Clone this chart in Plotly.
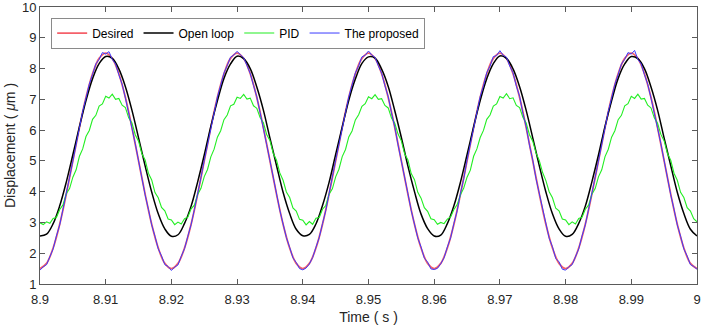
import numpy as np
import plotly.graph_objects as go

# Sampling grids (s): 1 ms for the smooth traces, 0.5 ms for the measured noisy ones
t_coarse = np.round(np.linspace(8.9, 9.0, 101), 4)
t_fine = np.round(np.linspace(8.9, 9.0, 201), 5)

# Desired reference trajectory (um), 1 ms samples
desired = [
    1.50, 1.67, 2.17, 2.94, 3.92, 5.00, 6.08, 7.06, 7.83, 8.33, 8.50, 8.33, 7.83, 7.06, 6.08, 5.00, 3.92, 2.94, 2.17, 1.67,
    1.50, 1.67, 2.17, 2.94, 3.92, 5.00, 6.08, 7.06, 7.83, 8.33, 8.50, 8.33, 7.83, 7.06, 6.08, 5.00, 3.92, 2.94, 2.17, 1.67,
    1.50, 1.67, 2.17, 2.94, 3.92, 5.00, 6.08, 7.06, 7.83, 8.33, 8.50, 8.33, 7.83, 7.06, 6.08, 5.00, 3.92, 2.94, 2.17, 1.67,
    1.50, 1.67, 2.17, 2.94, 3.92, 5.00, 6.08, 7.06, 7.83, 8.33, 8.50, 8.33, 7.83, 7.06, 6.08, 5.00, 3.92, 2.94, 2.17, 1.67,
    1.50, 1.67, 2.17, 2.94, 3.92, 5.00, 6.08, 7.06, 7.83, 8.33, 8.50, 8.33, 7.83, 7.06, 6.08, 5.00, 3.92, 2.94, 2.17, 1.67,
    1.50,
]

# Open-loop response (um), 1 ms samples
open_loop = [
    2.56, 2.62, 2.96, 3.54, 4.31, 5.20, 6.11, 6.96, 7.67, 8.16, 8.39, 8.33, 7.99, 7.41, 6.64, 5.75, 4.84, 3.99, 3.28, 2.79,
    2.55, 2.60, 2.97, 3.53, 4.32, 5.19, 6.12, 6.95, 7.68, 8.15, 8.40, 8.32, 8.00, 7.40, 6.65, 5.74, 4.85, 3.98, 3.29, 2.78,
    2.57, 2.61, 2.95, 3.55, 4.30, 5.21, 6.10, 6.97, 7.66, 8.17, 8.38, 8.34, 7.98, 7.42, 6.63, 5.76, 4.83, 4.00, 3.27, 2.80,
    2.56, 2.59, 2.96, 3.54, 4.31, 5.20, 6.11, 6.96, 7.67, 8.16, 8.41, 8.33, 7.99, 7.41, 6.64, 5.75, 4.84, 3.99, 3.28, 2.79,
    2.55, 2.61, 2.97, 3.53, 4.32, 5.19, 6.12, 6.95, 7.68, 8.15, 8.39, 8.32, 8.00, 7.40, 6.65, 5.74, 4.85, 3.98, 3.29, 2.78,
    2.56,
]

# PID-controlled response (um), 0.5 ms samples
pid = [
    2.99, 2.93, 3.02, 2.97, 3.13, 3.16, 3.42, 3.57, 3.93, 4.10, 4.47, 4.71, 5.15, 5.39, 5.79, 5.99, 6.35, 6.48, 6.78, 6.85,
    7.10, 7.04, 7.17, 7.00, 7.03, 6.81, 6.73, 6.40, 6.23, 5.85, 5.64, 5.24, 5.03, 4.60, 4.38, 3.97, 3.80, 3.49, 3.38, 3.11,
    3.08, 2.93, 3.01, 2.95, 3.12, 3.17, 3.44, 3.56, 3.91, 4.11, 4.49, 4.72, 5.13, 5.38, 5.77, 5.98, 6.34, 6.49, 6.79, 6.84,
    7.07, 7.03, 7.16, 7.01, 7.04, 6.79, 6.71, 6.41, 6.24, 5.86, 5.66, 5.25, 5.02, 4.61, 4.37, 3.99, 3.81, 3.47, 3.37, 3.10,
    3.07, 2.92, 3.03, 2.94, 3.14, 3.16, 3.43, 3.55, 3.92, 4.09, 4.48, 4.73, 5.14, 5.37, 5.78, 5.97, 6.33, 6.50, 6.77, 6.86,
    7.08, 7.02, 7.15, 7.00, 7.02, 6.80, 6.72, 6.39, 6.22, 5.87, 5.65, 5.23, 5.03, 4.59, 4.39, 3.98, 3.79, 3.48, 3.36, 3.12,
    3.09, 2.94, 3.00, 2.96, 3.11, 3.18, 3.42, 3.58, 3.90, 4.12, 4.47, 4.70, 5.15, 5.39, 5.76, 5.99, 6.35, 6.49, 6.78, 6.85,
    7.09, 7.04, 7.18, 7.02, 7.05, 6.80, 6.73, 6.42, 6.23, 5.85, 5.64, 5.26, 5.01, 4.62, 4.36, 4.00, 3.80, 3.46, 3.38, 3.11,
    3.08, 2.93, 3.02, 2.95, 3.13, 3.17, 3.43, 3.56, 3.92, 4.10, 4.48, 4.71, 5.14, 5.38, 5.77, 5.98, 6.34, 6.48, 6.79, 6.86,
    7.10, 7.03, 7.17, 7.01, 7.03, 6.81, 6.72, 6.40, 6.22, 5.86, 5.65, 5.24, 5.02, 4.60, 4.37, 3.98, 3.81, 3.48, 3.37, 3.12,
    3.02,
]

# Response with the proposed controller (um), 0.5 ms samples
proposed = [
    1.45, 1.56, 1.63, 1.91, 2.14, 2.56, 2.92, 3.43, 3.90, 4.47, 4.99, 5.56, 6.07, 6.61, 7.04, 7.49, 7.81, 8.15, 8.30, 8.52,
    8.47, 8.55, 8.30, 8.15, 7.80, 7.49, 7.04, 6.60, 6.06, 5.56, 4.99, 4.46, 3.90, 3.43, 2.92, 2.55, 2.14, 1.91, 1.63, 1.57,
    1.44, 1.55, 1.62, 1.90, 2.15, 2.55, 2.93, 3.42, 3.91, 4.46, 5.01, 5.54, 6.09, 6.58, 7.07, 7.46, 7.85, 8.10, 8.37, 8.44,
    8.56, 8.45, 8.35, 8.10, 7.84, 7.45, 7.08, 6.57, 6.09, 5.53, 5.01, 4.44, 3.93, 3.40, 2.95, 2.51, 2.19, 1.85, 1.70, 1.50,
    1.46, 1.52, 1.65, 1.86, 2.19, 2.51, 2.96, 3.39, 3.94, 4.43, 5.02, 5.53, 6.10, 6.57, 7.08, 7.45, 7.86, 8.09, 8.38, 8.43,
    8.57, 8.44, 8.36, 8.09, 7.85, 7.44, 7.09, 6.56, 6.10, 5.52, 5.02, 4.43, 3.94, 3.39, 2.96, 2.50, 2.20, 1.84, 1.71, 1.49,
    1.47, 1.51, 1.66, 1.85, 2.20, 2.50, 2.97, 3.38, 3.95, 4.42, 5.03, 5.52, 6.11, 6.56, 7.09, 7.44, 7.87, 8.08, 8.39, 8.42,
    8.58, 8.43, 8.37, 8.08, 7.86, 7.43, 7.10, 6.55, 6.11, 5.51, 5.03, 4.42, 3.95, 3.38, 2.97, 2.49, 2.21, 1.83, 1.72, 1.48,
    1.45, 1.56, 1.63, 1.91, 2.14, 2.56, 2.92, 3.43, 3.90, 4.47, 4.99, 5.56, 6.07, 6.61, 7.04, 7.49, 7.81, 8.15, 8.30, 8.52,
    8.47, 8.59, 8.30, 8.15, 7.80, 7.49, 7.04, 6.60, 6.06, 5.56, 4.99, 4.46, 3.90, 3.43, 2.92, 2.55, 2.14, 1.91, 1.63, 1.57,
    1.48,
]

x_tick_vals = [8.9, 8.91, 8.92, 8.93, 8.94, 8.95, 8.96, 8.97, 8.98, 8.99, 9.0]
x_tick_text = ["8.9", "8.91", "8.92", "8.93", "8.94", "8.95", "8.96", "8.97", "8.98", "8.99", "9"]
y_tick_vals = [1, 2, 3, 4, 5, 6, 7, 8, 9, 10]

FONT = "Liberation Sans, Arial, sans-serif"

fig = go.Figure()
fig.add_trace(go.Scatter(x=t_coarse, y=desired, mode="lines", name="Desired",
                         line=dict(color="#f5606a", width=1.8, shape="spline")))
fig.add_trace(go.Scatter(x=t_coarse, y=open_loop, mode="lines", name="Open loop",
                         line=dict(color="#000000", width=1.5, shape="spline")))
fig.add_trace(go.Scatter(x=t_fine, y=pid, mode="lines", name="PID",
                         line=dict(color="#22ee22", width=1.1)))
fig.add_trace(go.Scatter(x=t_fine, y=proposed, mode="lines", name="The proposed",
                         line=dict(color="#3a3aff", width=1.0)))

axis_common = dict(
    showgrid=False, zeroline=False, showline=True, linecolor="#5a5a5a", linewidth=1,
    mirror="ticks", ticks="inside", ticklen=5, tickcolor="#5a5a5a",
    tickfont=dict(family=FONT, size=13, color="#262626"),
    ticklabeloverflow="allow", automargin=False,
)

fig.update_layout(
    width=709, height=325,
    margin=dict(l=40, r=12, t=7, b=41),
    paper_bgcolor="white", plot_bgcolor="white",
    font=dict(family=FONT, color="#262626"),
    xaxis=dict(range=[8.9, 9.0], tickvals=x_tick_vals, ticktext=x_tick_text,
               ticklabelstandoff=3,
               title=dict(text="Time ( s )", font=dict(family=FONT, size=14, color="#262626"), standoff=8),
               **axis_common),
    yaxis=dict(range=[1, 10], tickvals=y_tick_vals,
               title=dict(text="Displacement ( <i>μ</i>m )", font=dict(family=FONT, size=14, color="#262626"), standoff=3),
               **axis_common),
    legend=dict(orientation="h", x=0.017, y=0.962, xanchor="left", yanchor="top",
                bgcolor="white", bordercolor="#8a8a8a", borderwidth=1,
                font=dict(family=FONT, size=12, color="#000000"),
                itemwidth=30, tracegroupgap=0),
    showlegend=True,
)

fig.write_html("out.html")
